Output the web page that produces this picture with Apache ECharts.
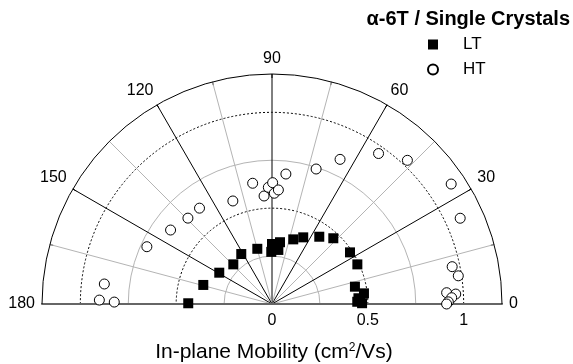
<!DOCTYPE html>
<html>
<head>
<meta charset="utf-8">
<script src="https://cdn.jsdelivr.net/npm/echarts@6/dist/echarts.min.js"></script>
<style>
  html, body { margin: 0; padding: 0; background: #fff; }
  #chart { width: 573px; height: 364px; }
</style>
</head>
<body>
<div id="chart"></div>
<script>
// [mobility, angle in degrees]
var ltData = [
  [0.437, 179.5], [0.372, 164.5], [0.320, 149.3], [0.289, 134.3],
  [0.306, 121.6], [0.298, 104.9], [0.313, 90.0], [0.325, 82.6],
  [0.272, 90.8], [0.284, 83.3], [0.355, 71.8], [0.384, 64.9],
  [0.429, 54.9], [0.469, 47.0], [0.488, 33.5], [0.491, 24.9],
  [0.442, 11.8], [0.483, 6.6], [0.452, 3.8], [0.470, 0.5],
  [0.445, 1.5], [0.460, 2.5]
];
var htData = [
  [0.901, 178.7], [0.823, 179.3], [0.881, 173.2], [0.718, 155.4],
  [0.655, 143.9], [0.627, 134.4], [0.627, 127.1], [0.575, 110.8],
  [0.638, 99.1], [0.565, 94.2], [0.609, 91.8], [0.633, 89.7],
  [0.578, 88.8], [0.596, 86.8], [0.682, 83.9], [0.741, 71.9],
  [0.834, 64.8], [0.962, 54.7], [1.030, 46.7], [1.125, 33.8],
  [1.079, 24.5], [0.960, 11.7], [0.983, 8.6], [0.913, 3.7],
  [0.960, 3.1], [0.938, 2.0], [0.920, 0.7], [0.911, 0]
];
var angleLabels = [0, 30, 60, 90, 120, 150, 180];
var radiusLabels = [0, 0.5, 1];

var FONT = "'Liberation Sans', Arial, sans-serif";
var CX = 272, CY = 304, R = 230;
var NONE = "rgba(0,0,0,0)";
var GRAY = "#b4b4b4";

var chart = echarts.init(document.getElementById("chart"));

// angle split lines: 0..180 every 15 deg, black on 30s, gray otherwise
var angleLineColors = [];
for (var a = 0; a <= 180; a += 15) {
  if (a === 0 || a === 180) angleLineColors.push("#666");
  else if (a % 30 === 0) angleLineColors.push("#000");
  else angleLineColors.push(GRAY);
}

function hiddenAngle(idx, start, end, clockwise) {
  return {
    polarIndex: idx, type: "value", min: 0, max: 180,
    startAngle: start, endAngle: end, clockwise: clockwise,
    axisLine: { show: false }, axisTick: { show: false },
    axisLabel: { show: false }, splitLine: { show: false }
  };
}

chart.setOption({
  backgroundColor: "#fff",
  animation: false,
  title: {
    text: "α-6T / Single Crystals",
    right: 3,
    top: 9,
    padding: 0,
    textStyle: { fontFamily: FONT, fontSize: 20, fontWeight: "bold", color: "#000" }
  },
  legend: {
    orient: "vertical",
    left: 422,
    top: 31,
    itemWidth: 10,
    itemHeight: 10,
    itemGap: 8,
    data: [
      { name: "LT", icon: "rect" },
      { name: "HT", icon: "circle" }
    ],
    textStyle: { fontFamily: FONT, fontSize: 17, color: "#000", padding: [0, 0, 0, 20], lineHeight: 16 }
  },
  graphic: [{
    type: "text",
    x: 274,
    y: 352,
    style: {
      text: "In-plane Mobility (cm{sup|2}/Vs)",
      rich: { sup: { fontSize: 12, verticalAlign: "top", padding: [0, 0, 9, 0], fontFamily: FONT } },
      fontFamily: FONT,
      fontSize: 21,
      fill: "#000",
      align: "center",
      verticalAlign: "middle"
    }
  }],
  polar: [
    { center: [CX, CY], radius: R },
    { center: [CX, CY], radius: R },
    { center: [CX, CY], radius: R }
  ],
  angleAxis: [
    {
      polarIndex: 0, type: "value", min: 0, max: 180, interval: 15,
      startAngle: 0, endAngle: 180, clockwise: false,
      axisLine: { show: true, lineStyle: { color: "#000", width: 1 } },
      axisTick: { show: true, inside: true, length: 4, lineStyle: { color: "#000" } },
      axisLabel: {
        margin: 7,
        fontFamily: FONT, fontSize: 16, color: "#000",
        formatter: function (v) { return angleLabels.indexOf(v) >= 0 ? String(v) : ""; }
      },
      splitLine: { show: true, lineStyle: { color: angleLineColors, width: 1 } }
    },
    hiddenAngle(1, 0, 180, false),
    hiddenAngle(2, 180, 0, true)
  ],
  radiusAxis: [
    {
      polarIndex: 0, type: "value", min: 0, max: 1.2, interval: 0.25,
      axisLine: { show: true, lineStyle: { color: "#666", width: 2 } },
      axisTick: { show: false },
      axisLabel: {
        margin: -25,
        fontFamily: FONT, fontSize: 16, color: "#000",
        formatter: function (v) { return radiusLabels.indexOf(v) >= 0 ? String(v) : ""; }
      },
      splitLine: { show: true, lineStyle: { color: [NONE, GRAY, NONE, GRAY, NONE, NONE], width: 1 } }
    },
    {
      polarIndex: 1, type: "value", min: 0, max: 1.2, interval: 0.5,
      axisLine: { show: false }, axisTick: { show: false }, axisLabel: { show: false },
      splitLine: { show: true, lineStyle: { color: [NONE, "#000", "#000", NONE], width: 1, type: [2, 2] } }
    },
    {
      polarIndex: 2, type: "value", min: 0, max: 1.2,
      axisLine: { show: true, lineStyle: { color: "#666", width: 2 } },
      axisTick: { show: false }, axisLabel: { show: false }, splitLine: { show: false }
    }
  ],
  series: [
    {
      name: "LT",
      type: "scatter",
      coordinateSystem: "polar",
      polarIndex: 0,
      symbol: "rect",
      symbolSize: 10,
      itemStyle: { color: "#000", opacity: 1 },
      data: ltData,
      z: 5
    },
    {
      name: "HT",
      type: "scatter",
      coordinateSystem: "polar",
      polarIndex: 0,
      symbol: "circle",
      symbolSize: 10,
      itemStyle: { color: "#fff", borderColor: "#000", borderWidth: 1, opacity: 1 },
      data: htData,
      z: 5
    }
  ]
});
</script>
</body>
</html>
